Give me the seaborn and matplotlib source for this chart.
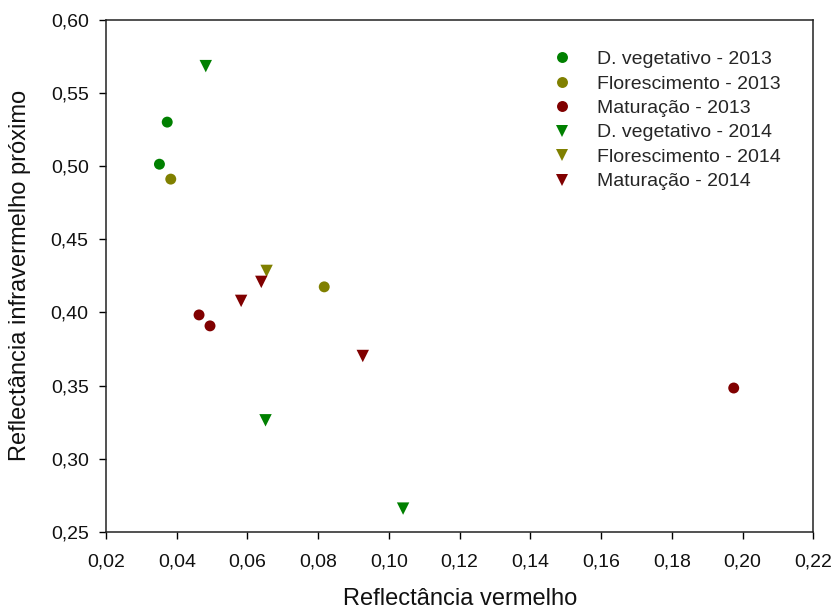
import matplotlib
matplotlib.use("Agg")
import matplotlib.pyplot as plt
import seaborn as sns
import pandas as pd

# Red and near-infrared reflectance by phenological stage and season
veg_2013_x = [0.0351, 0.0373]
veg_2013_y = [0.5014, 0.5302]
flor_2013_x = [0.0383, 0.0817]
flor_2013_y = [0.4912, 0.4175]
mat_2013_x = [0.0463, 0.0494, 0.1975]
mat_2013_y = [0.3983, 0.3908, 0.3483]
veg_2014_x = [0.0482, 0.0651, 0.1040]
veg_2014_y = [0.5685, 0.3262, 0.2658]
flor_2014_x = [0.0654]
flor_2014_y = [0.4284]
mat_2014_x = [0.0582, 0.0639, 0.0926]
mat_2014_y = [0.4079, 0.4209, 0.3702]

series = [
    ("D. vegetativo - 2013", veg_2013_x, veg_2013_y),
    ("Florescimento - 2013", flor_2013_x, flor_2013_y),
    ("Maturação - 2013", mat_2013_x, mat_2013_y),
    ("D. vegetativo - 2014", veg_2014_x, veg_2014_y),
    ("Florescimento - 2014", flor_2014_x, flor_2014_y),
    ("Maturação - 2014", mat_2014_x, mat_2014_y),
]
x_ticks = [0.02, 0.04, 0.06, 0.08, 0.10, 0.12, 0.14, 0.16, 0.18, 0.20, 0.22]
y_ticks = [0.25, 0.30, 0.35, 0.40, 0.45, 0.50, 0.55, 0.60]

rows = []
for name, xs, ys in series:
    for xv, yv in zip(xs, ys):
        rows.append({"vermelho": xv, "nir": yv, "grupo": name})
df = pd.DataFrame(rows)
order = [s[0] for s in series]

palette = {
    order[0]: "#008000", order[1]: "#808000", order[2]: "#800000",
    order[3]: "#008000", order[4]: "#808000", order[5]: "#800000",
}
markers = {order[0]: "o", order[1]: "o", order[2]: "o",
           order[3]: "v", order[4]: "v", order[5]: "v"}
sizes = {k: (62 if m == "o" else 80) for k, m in markers.items()}

sns.set_style("ticks")
plt.rcParams["font.family"] = ["Liberation Sans", "DejaVu Sans"]

fig = plt.figure(figsize=(8.35, 6.12), dpi=100)
ax = fig.add_axes([0.127, 0.1312, 0.847, 0.836])

sns.scatterplot(data=df, x="vermelho", y="nir", hue="grupo", style="grupo",
                hue_order=order, style_order=order, palette=palette,
                markers=markers, size="grupo", sizes=sizes, size_order=order,
                edgecolor="none", linewidth=0, ax=ax)

ax.set_xlim(0.02, 0.22)
ax.set_ylim(0.25, 0.60)
ax.set_xticks(x_ticks)
ax.set_yticks(y_ticks)
ax.set_xticklabels([f"{v:.2f}".replace(".", ",") for v in x_ticks])
ax.set_yticklabels([f"{v:.2f}".replace(".", ",") for v in y_ticks])
ax.tick_params(axis="both", direction="out", length=5, width=1.0,
               color="black", labelsize=14, labelcolor="#111111")
ax.tick_params(axis="x", pad=10.5)
ax.tick_params(axis="y", pad=7.5)
for sp in ax.spines.values():
    sp.set_visible(True)
    sp.set_linewidth(1.1)
    sp.set_color("#222222")

ax.set_xlabel("Reflectância vermelho", fontsize=17, labelpad=13, color="#111111")
ax.set_ylabel("Reflectância infravermelho próximo", fontsize=17, labelpad=14,
              color="#111111")

sns.move_legend(ax, "upper left", bbox_to_anchor=(0.6405, 0.93),
                bbox_transform=fig.transFigure, frameon=False, title=None,
                fontsize=14, handletextpad=0.8, labelspacing=0.35,
                borderaxespad=0, markerscale=1.0)

fig.savefig("out.png", dpi=100)
